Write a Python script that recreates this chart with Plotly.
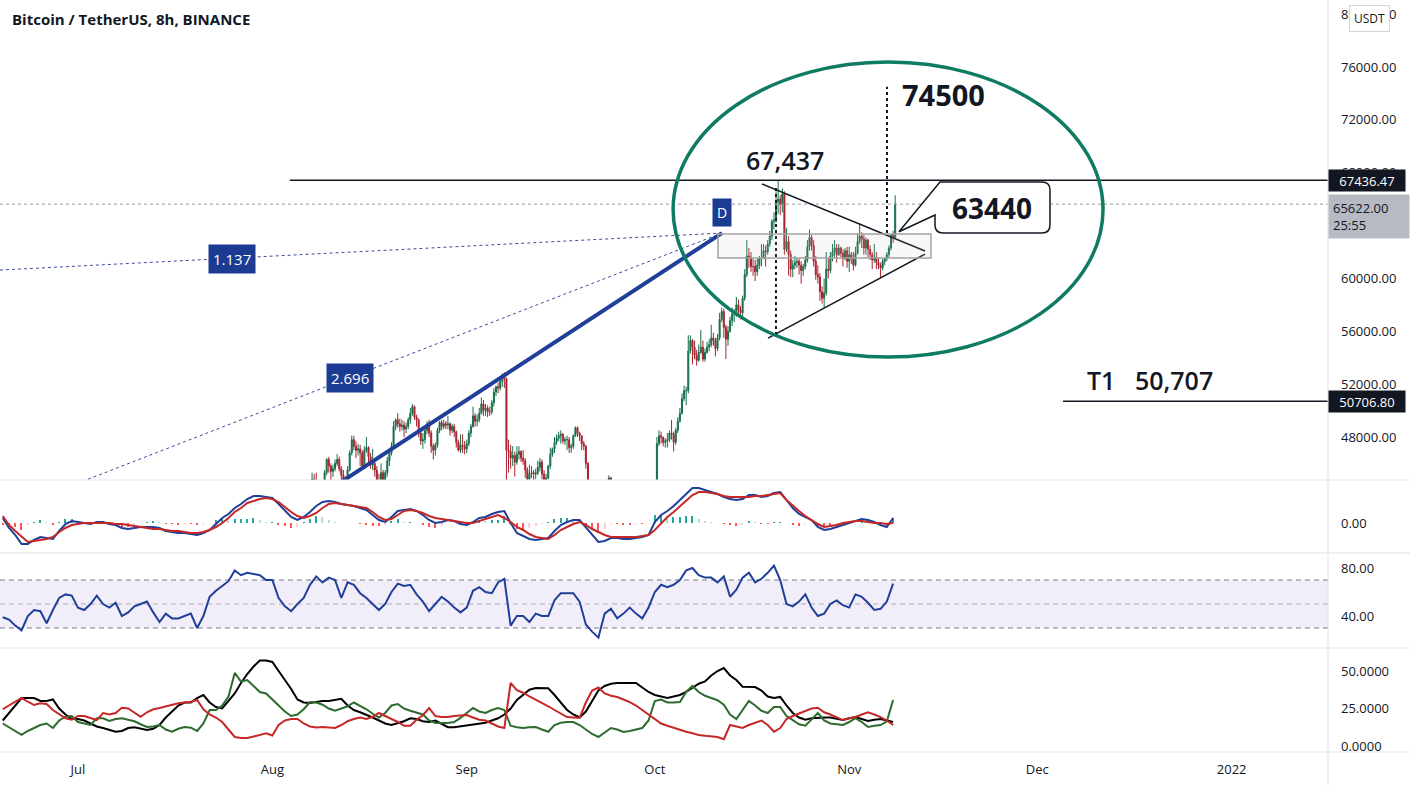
import pandas as pd
import plotly.graph_objects as go
from plotly.subplots import make_subplots

# ------------------------------------------------------------------ data
chart_title = "Bitcoin / TetherUS, 8h, BINANCE"

# 8h candles, first candle opens 2021-08-05 00:00
candle_start = "2021-08-05 00:00"
candle_first_open = 39500
candle_close = [
    39800, 40500, 40900,  41200, 42400, 42800,  43900, 44800, 44600,  44300, 43900, 43800,   # Aug 5-8
    43200, 45300, 46300,  45800, 45400, 45600,  46000, 46300, 45600,  45100, 44600, 44400,   # Aug 9-12
    45500, 46800, 47800,  47300, 47000, 47100,  46800, 45800, 47000,  47200, 46500, 45900,   # Aug 13-16
    46000, 45500, 44700,  44700, 45300, 44700,  45300, 46200, 46800,  47300, 48800, 49300,   # Aug 17-20
    49000, 48800, 48900,  48600, 48800, 49300,  49800, 50300, 49500,  49300, 48300, 47700,   # Aug 21-24
    47800, 48500, 48900,  48300, 47300, 47000,  47400, 48500, 49100,  48800, 49000, 48900,   # Aug 25-28
    49000, 48500, 48800,  48400, 47600, 47000,  47400, 47300, 47100,                         # Aug 29-31
    47500, 48300, 48800,  49600, 49200, 49300,  49800, 50500, 50000,  50200, 49900, 49900,   # Sep 1-4
    50600, 51400, 51800,  51700, 52200, 52700,  52400, 47000, 46900,  46400, 46600, 46100,   # Sep 5-8
    46700, 46900, 46400,  46200, 45500, 44800,  45200, 45300, 45200,  45300, 45700, 46100,   # Sep 9-12
    45200, 44600, 44900,  45800, 46700, 47100,  47600, 47900, 48100,  48200, 47700, 47800,   # Sep 13-16
    47800, 47200, 47300,  48100, 48700, 48300,  48100, 47500, 47300,  46000, 44200, 43000,   # Sep 17-20
    42700, 41700, 40700,  41700, 42800, 43600,  43900, 44300, 44900,  44500, 41800, 42800,   # Sep 21-24
    42500, 42900, 42700,  42300, 42900, 43200,  43900, 43400, 42200,  41900, 41300, 41000,   # Sep 25-28
    41300, 41900, 41500,  42800, 43400, 43800,                                               # Sep 29-30
    44200, 47500, 48100,  48000, 47600, 47700,  47800, 48300, 48200,  47600, 48500, 49200,   # Oct 1-4
    49800, 50900, 51500,  51500, 54500, 55300,  54800, 54200, 53800,  54400, 54800, 53900,   # Oct 5-8
    54400, 54800, 55000,  55500, 55300, 54700,  55500, 56900, 57500,  56300, 55400, 56000,   # Oct 9-12
    56800, 57300, 57400,  58000, 57600, 57400,  58500, 60300, 61700,  61600, 60900, 60900,   # Oct 13-16
    60500, 61000, 61500,  61500, 62100, 62000,  62600, 63200, 64300,  64400, 65800, 66000,   # Oct 17-20
    65600, 66400, 62200,  62800, 61800, 60700,  61000, 61200, 61300,  61000, 60600, 60900,   # Oct 21-24
    61400, 62400, 63100,  62500, 61300, 60300,  60100, 59000, 58500,  58900, 60700, 60600,   # Oct 25-28
    61700, 62000, 62300,  61800, 62300, 61900,  61500, 62100, 61300,                         # Oct 29-31
    61800, 61600, 61000,  61900, 62800, 63200,  63000, 62300, 62900,  62200, 61800, 61400,   # Nov 1-4
    61600, 61200, 61000,  60800, 61300, 61500,  61800, 62300, 63300,  63100, 65622,          # Nov 5-8
]
candle_high = [
    40300, 41200, 41400,  41500, 42700, 43300,  44100, 45300, 45200,  45300, 44600, 44200,
    44100, 45500, 46400,  46500, 46000, 45900,  46300, 46700, 46500,  45800, 45500, 45000,
    45800, 47000, 48100,  48100, 47700, 47500,  47400, 47000, 47300,  48000, 47300, 46800,
    47100, 46200, 45800,  45200, 46000, 45500,  45500, 46500, 47000,  47600, 49200, 49400,
    49800, 49400, 49300,  49200, 49100, 49500,  50200, 50500, 50400,  49700, 49400, 48600,
    48300, 48800, 49200,  49300, 48500, 47500,  47600, 48700, 49200,  49300, 49300, 49200,
    49600, 49100, 49000,  49000, 48500, 47800,  48200, 48200, 47700,
    47800, 48500, 49000,  50300, 49800, 49700,  50200, 51000, 50800,  50500, 50400, 50300,
    50800, 51700, 51900,  52100, 52600, 52800,  52900, 52500, 47800,  47400, 47300, 46900,
    47300, 47300, 47000,  47000, 46400, 45700,  45900, 45800, 45500,  45600, 46200, 46400,
    46300, 45500, 45200,  45900, 47200, 47200,  48000, 48200, 48400,  48500, 48300, 48000,
    48100, 48000, 47500,  48200, 48800, 48800,  48400, 48100, 47700,  47400, 46100, 44400,
    43600, 42800, 42300,  42100, 43200, 44000,  44100, 44500, 45100,  45000, 44700, 43100,
    43000, 43000, 43100,  42800, 43500, 43900,  44400, 44300, 43600,  42800, 42300, 41600,
    41900, 42600, 42100,  43100, 43800, 44100,
    44500, 48000, 48500,  48400, 48000, 47900,  48300, 48500, 49300,  48400, 48700, 49500,
    50200, 51300, 51900,  51800, 55700, 55700,  55400, 55300, 54600,  55000, 56100, 55300,
    54700, 55200, 55400,  56500, 55900, 55500,  55800, 57400, 57800,  57700, 56500, 56400,
    57100, 57800, 57700,  58600, 58400, 57900,  58700, 60700, 62900,  62300, 62000, 61500,
    61400, 61500, 61700,  62600, 62600, 62500,  62900, 63600, 64500,  65000, 66600, 67436,
    66300, 66800, 66600,  63800, 63200, 62100,  61400, 61700, 61600,  61500, 61300, 61100,
    61700, 62900, 63700,  63300, 62900, 61700,  61000, 60400, 59400,  60000, 62000, 61500,
    62000, 62600, 62900,  62600, 62600, 62400,  62200, 62300, 62400,
    62400, 62000, 62000,  62400, 63400, 64200,  63500, 63300, 63100,  63000, 62500, 62000,
    62600, 62000, 61600,  61200, 61500, 61600,  62000, 62500, 63300,  63600, 66300,
]
candle_low = [
    37500, 39600, 40200,  40500, 41000, 42200,  42700, 43800, 44100,  43800, 43300, 43300,
    42800, 43100, 45100,  45300, 44700, 45000,  45400, 45800, 45400,  44500, 43800, 43800,
    44200, 45400, 46600,  47000, 46400, 46600,  45800, 45500, 45600,  46800, 45900, 45600,
    45500, 45000, 44400,  44200, 44400, 44200,  43900, 45000, 45800,  46600, 47100, 48500,
    48700, 48400, 48500,  48000, 48300, 48600,  49000, 49600, 49300,  48800, 48000, 47400,
    47100, 47500, 48200,  48000, 46800, 46300,  46600, 47200, 48300,  48500, 48600, 48600,
    48600, 48100, 48300,  48000, 47200, 46900,  46800, 46800, 46700,
    46800, 47300, 48000,  48700, 48800, 48800,  49100, 49700, 49600,  49600, 49500, 49600,
    49700, 50300, 51100,  51300, 51500, 51800,  51700, 42800, 45300,  45600, 45800, 45000,
    45900, 46300, 46100,  45900, 44900, 44100,  44700, 44900, 44700,  44800, 45100, 45400,
    44800, 43400, 44300,  44800, 45600, 46500,  46800, 47400, 47700,  47500, 47500, 47400,
    47000, 46800, 46800,  47100, 48000, 48000,  47700, 47000, 47000,  45600, 43700, 42500,
    42300, 40900, 39600,  40600, 41400, 42500,  43100, 43600, 44000,  44100, 40700, 41400,
    41700, 42200, 42300,  40800, 42000, 42700,  43200, 43000, 42000,  41400, 40900, 40800,
    40800, 41200, 41100,  41400, 42600, 43100,
    43300, 44000, 47300,  47500, 47300, 47200,  47200, 47600, 47800,  46900, 47400, 48300,
    49100, 49700, 50700,  50400, 51300, 54300,  53500, 53900, 53400,  53700, 54300, 53700,
    53700, 54300, 54500,  54800, 54900, 54100,  54500, 55300, 56700,  55500, 53900, 54900,
    55900, 56400, 56700,  57100, 57200, 56900,  57000, 58300, 60100,  60800, 60500, 60200,
    59800, 60200, 60700,  60900, 61500, 60900,  61800, 62400, 62900,  63700, 64200, 64900,
    64800, 65000, 61800,  62000, 60200, 60100,  60100, 60700, 60800,  60300, 59600, 60200,
    60700, 61200, 62100,  62100, 60900, 59900,  59600, 58300, 58100,  57800, 58700, 60000,
    60400, 61300, 61600,  61200, 61700, 61600,  60900, 61400, 60800,
    60500, 61100, 60600,  60900, 61800, 62600,  62300, 61800, 61800,  61600, 61400, 60700,
    61200, 60700, 60700,  60000, 60600, 61000,  61300, 61600, 62100,  62700, 63000,
]

# daily indicator readings, first value 2021-06-19
indicator_start = "2021-06-19"
macd_line = [
    250, -250, -600, -1050, -1050, -850, -700, -750, -800, -400,
    -50, 100, 50, 0, -50, 50, 50, -50, -100, -250,
    -300, -250, -200, -200, -200, -250, -400, -450, -500, -500,
    -550, -600, -500, -350, -50, 250, 450, 750, 950, 1200,
    1350, 1350, 1300, 1250, 950, 650, 300, 150, 300, 550,
    850, 1050, 1100, 1050, 950, 900, 850, 750, 650, 400,
    150, 50, 300, 600, 650, 700, 600, 400, 150, 0,
    50, 150, 100, -50, -100, 50, 250, 300, 450, 550,
    600, 0, -500, -650, -800, -850, -800, -750, -400, -100,
    50, 150, 150, -200, -600, -950, -900, -750, -750, -800,
    -800, -750, -700, -600, 50, 400, 600, 850, 1150, 1500,
    1750, 1750, 1650, 1550, 1450, 1300, 1200, 1150, 1200, 1400,
    1400, 1300, 1350, 1500, 1550, 1150, 750, 450, 300, 150,
    -200, -350, -300, -200, -100, 0, 100, 200, 150, 50,
    -100, -200, 250,
]
macd_signal = [
    350, -100, -400, -700, -950, -900, -850, -800, -700, -450,
    -250, -100, -50, 0, 0, 0, 0, 0, -50, -50,
    -100, -150, -200, -250, -300, -300, -350, -400, -400, -450,
    -500, -500, -450, -350, -200, 0, 250, 550, 750, 1000,
    1100, 1200, 1250, 1200, 1050, 800, 550, 350, 250, 350,
    500, 750, 950, 1000, 950, 900, 850, 800, 750, 550,
    300, 150, 200, 400, 600, 650, 600, 500, 350, 250,
    200, 150, 100, 50, 0, 0, 100, 200, 300, 400,
    250, 50, -200, -350, -550, -700, -750, -800, -600, -350,
    -200, -50, 50, -100, -300, -450, -600, -700, -700, -700,
    -700, -700, -650, -600, -350, 0, 300, 550, 850, 1150,
    1400, 1550, 1550, 1500, 1450, 1350, 1300, 1300, 1300, 1300,
    1350, 1350, 1400, 1450, 1500, 1150, 850, 600, 350, 150,
    -50, -200, -150, -100, 0, 50, 100, 100, 50, 0,
    0, -50, 0,
]
rsi_values = [
    39, 37, 32, 28, 40, 45, 44, 34, 45, 55,
    58, 57, 47, 45, 50, 57, 50, 47, 51, 40,
    43, 48, 50, 52, 43, 35, 42, 38, 38, 40,
    42, 30, 40, 56, 61, 65, 69, 78, 74, 76,
    75, 74, 70, 70, 55, 48, 44, 50, 55, 66,
    73, 68, 72, 70, 55, 68, 66, 59, 55, 50,
    45, 50, 60, 67, 65, 66, 58, 52, 44, 50,
    56, 52, 47, 43, 47, 61, 64, 60, 59, 68,
    71, 32, 40, 40, 35, 42, 40, 40, 53, 59,
    59, 59, 52, 33, 27, 22, 42, 46, 38, 42,
    47, 42, 38, 47, 60, 66, 64, 66, 70, 78,
    80, 74, 72, 72, 68, 73, 56, 62, 72, 76,
    68, 71, 76, 82, 70, 50, 48, 52, 58, 47,
    40, 42, 50, 53, 49, 47, 58, 56, 51, 45,
    46, 52, 67,
]
adx_values = [
    17, 22, 27, 32, 32, 32, 30, 30, 31, 25,
    21, 18, 18, 17, 15, 13, 12, 10.5, 9.5, 10,
    12, 12.5, 11.5, 10.7, 11.5, 14, 19, 23, 27, 29,
    29, 32, 34, 29, 26, 25, 30, 35, 42, 48,
    53, 57, 57, 56, 50, 44, 38, 31, 29, 28.7,
    29.5, 30, 30, 30.5, 31.5, 27, 24, 22.5, 21, 19,
    17, 15, 14, 15, 16.5, 18.5, 18, 16.5, 16, 17,
    14.5, 12.5, 12.5, 13, 14, 14.5, 15, 15.5, 17, 18.5,
    21, 25, 30.7, 34, 37.5, 38.7, 38.7, 38.5, 34, 29,
    24, 21, 19, 23, 30, 37, 40, 41.5, 42, 42,
    42, 42, 39, 36, 34, 33, 32, 33, 34, 36,
    39, 41.5, 43, 47, 50, 52, 47, 44, 39.5, 39.3,
    39.3, 37, 33, 32, 32.7, 27, 22, 19, 17.5, 18.5,
    19, 19, 19, 18, 17.3, 18.5, 19.3, 18, 16.7, 17.5,
    18, 17, 16,
]
plus_di = [
    15, 12.5, 10, 7.5, 10, 12, 14, 15, 12, 17,
    19.5, 20, 16, 15, 14, 18.5, 18.5, 16.7, 18, 18.5,
    17.5, 16.5, 14.5, 12.7, 13, 14, 11, 9.5, 11.5, 12.7,
    12.2, 10, 15, 24, 24, 27, 33, 48.7, 43, 44,
    40, 36, 35, 30.7, 27, 23, 20, 21, 24.5, 29.3,
    29, 27.5, 25, 23.5, 25, 26.5, 29, 27, 24.5, 21.5,
    19, 22, 27, 28, 25, 23.5, 22.5, 21, 17, 15.3,
    15.3, 15.3, 16, 18.7, 22, 25.3, 23, 22, 24, 25.3,
    24, 13.5, 12.5, 12, 12.5, 12.7, 11, 9.5, 14, 15.5,
    16, 16, 14, 11, 8, 6, 9, 12, 11, 9.3,
    10, 11, 12, 17, 30, 31, 29, 29, 29.3, 36,
    40, 36, 33.5, 32, 30.5, 27.5, 21, 18, 24, 30,
    27, 23.5, 22, 26, 26, 20, 17.3, 14.5, 13.5, 18,
    22, 17, 15, 14.5, 14, 16, 18.5, 16, 12.7, 13.5,
    14, 16.5, 30.7,
]
minus_di = [
    24.5, 27, 30, 32, 29.5, 27.3, 28.5, 28, 24, 21,
    18.5, 17.5, 20, 20, 18.5, 17.3, 22, 21, 22, 25.5,
    25, 22, 19.5, 22.5, 24.5, 25.3, 26.5, 27.5, 28.5, 29,
    29.5, 30.7, 24.5, 21, 19, 16, 11, 6, 5.3, 5.3,
    6.3, 7.5, 8.5, 7, 14, 17, 18, 18, 15, 13,
    12.3, 12.7, 12.3, 12, 14, 16.5, 18, 19, 18, 19.5,
    22, 20, 18.5, 16, 13.5, 13.5, 17.5, 20.5, 25.3, 20,
    19.3, 19.3, 20, 20.5, 20.7, 19, 17.5, 17, 15, 13,
    12, 42, 37.3, 35.5, 33, 31, 28.5, 26.5, 24, 21.5,
    19.3, 19, 18.7, 29, 37, 39, 35, 33.5, 32.7, 31,
    29.3, 27, 24, 21, 18, 15, 13.5, 12, 11, 9.5,
    8.5, 7.3, 6.8, 6.3, 6, 4.5, 14, 13, 12, 14,
    15.5, 17, 14, 9.5, 12, 18, 20, 21.5, 23, 25,
    25.5, 22.5, 21, 19, 17.3, 18.5, 19.3, 21, 22.5, 21,
    19.3, 17, 14,
]

month_ticks = ["2021-07-01", "2021-08-01", "2021-09-01", "2021-10-01",
               "2021-11-01", "2021-12-01", "2022-01-01"]
month_labels = ["Jul", "Aug", "Sep", "Oct", "Nov", "Dec", "2022"]
# 64000 sits entirely under the last-price label in the reference, so it is not drawn
price_ticks = [48000, 52000, 56000, 60000, 68000, 72000, 76000, 80000]

resistance_level = 67436.47
last_price = 65622.00
countdown = "25:55"
target1_level = 50706.80
target1_text = "T1   50,707"
peak_text = "67,437"
target_text = "74500"
target_price = 74500
callout_text = "63440"
fib_labels = ["1.137", "2.696"]

# ------------------------------------------------------------------ styles
GREEN = "#15704a"
RED = "#a8222e"
BLUE = "#1f3f99"
LINE_RED = "#c62828"
DK = "#131722"
FONT = "Open Sans, sans-serif"

x_start = "2021-06-18 13:30"
x_end = "2022-01-16 08:40"

times = pd.date_range(candle_start, periods=len(candle_close), freq="8h")
opens = [candle_first_open] + candle_close[:-1]
days = pd.date_range(indicator_start, periods=len(macd_line), freq="D")

hist = [m - s for m, s in zip(macd_line, macd_signal)]
hist_colors = []
for i, h in enumerate(hist):
    prev = hist[i - 1] if i > 0 else 0
    if h >= 0:
        hist_colors.append("#26a69a" if h >= prev else "#b2dfdb")
    else:
        hist_colors.append("#ff5252" if h <= prev else "#ffcdd2")

fig = make_subplots(rows=4, cols=1, shared_xaxes=True, vertical_spacing=0,
                    row_heights=[480, 73, 95, 104])

fig.add_trace(go.Candlestick(
    x=times, open=opens, high=candle_high, low=candle_low, close=candle_close,
    increasing=dict(line=dict(color=GREEN, width=1), fillcolor=GREEN),
    decreasing=dict(line=dict(color=RED, width=1), fillcolor=RED),
    whiskerwidth=0, hoverinfo="skip", showlegend=False), row=1, col=1)

fig.add_trace(go.Bar(x=days, y=hist, marker=dict(color=hist_colors, line=dict(width=0)),
                     width=5 * 3600 * 1000, hoverinfo="skip"), row=2, col=1)
fig.add_trace(go.Scatter(x=days, y=macd_line, mode="lines",
                         line=dict(color=BLUE, width=2)), row=2, col=1)
fig.add_trace(go.Scatter(x=days, y=macd_signal, mode="lines",
                         line=dict(color=LINE_RED, width=2)), row=2, col=1)

fig.add_trace(go.Scatter(x=days, y=rsi_values, mode="lines",
                         line=dict(color=BLUE, width=2)), row=3, col=1)
fig.add_hrect(y0=30, y1=70, row=3, col=1, fillcolor="rgba(126,87,194,0.10)",
              line_width=0, layer="below", exclude_empty_subplots=False)
for lvl, col in [(70, "#787b86"), (50, "rgba(120,123,134,0.55)"), (30, "#787b86")]:
    fig.add_hline(y=lvl, row=3, col=1, line=dict(color=col, width=1, dash="5px,4px"),
                  layer="below", exclude_empty_subplots=False)

fig.add_trace(go.Scatter(x=days, y=adx_values, mode="lines",
                         line=dict(color="#000000", width=2)), row=4, col=1)
fig.add_trace(go.Scatter(x=days, y=plus_di, mode="lines",
                         line=dict(color="#2e6b2e", width=2)), row=4, col=1)
fig.add_trace(go.Scatter(x=days, y=minus_di, mode="lines",
                         line=dict(color=LINE_RED, width=2)), row=4, col=1)

# ------------------------------------------------------------------ drawings (data coords)
leg_start = ("2021-08-11 19:00", 44540)
leg_end = ("2021-10-11 17:00", 63434)
fib_a_start = ("2021-06-18 13:30", 60633)
fib_b_start = ("2021-06-28 03:00", 43979)

shapes = []
def seg(p0, p1, **line):
    shapes.append(dict(type="line", xref="x", yref="y", x0=p0[0], y0=p0[1],
                       x1=p1[0], y1=p1[1], line=line))

seg(fib_a_start, leg_end, color="#3d4a9c", width=1, dash="dot")
seg(fib_b_start, leg_end, color="#3d4a9c", width=1, dash="dot")
seg(leg_start, leg_end, color=BLUE, width=4)
seg((x_start, last_price), ("2022-01-20", last_price), color="#9598a1", width=1, dash="dot")
seg(("2021-08-03 19:00", resistance_level), ("2022-01-20", resistance_level), color=DK, width=1.5)
seg(("2021-12-05 02:30", target1_level), ("2022-01-20", target1_level), color=DK, width=1.5)
seg(("2021-10-18 02:10", 67143), ("2021-11-13 02:10", 62071), color=DK, width=1.5)
seg(("2021-10-19 01:10", 55485), ("2021-11-13 02:10", 61844), color=DK, width=1.5)
seg(("2021-10-20 07:40", 55713), ("2021-10-20 07:40", 67067), color=DK, width=2, dash="dot")
seg(("2021-11-07 00:40", 63434), ("2021-11-07 00:40", target_price), color=DK, width=2, dash="dot")

shapes.append(dict(type="rect", xref="x", yref="y", x0="2021-10-11 01:40", x1="2021-11-14 01:00",
                   y0=61541, y1=63358, line=dict(color="#a3a3a3", width=1.5),
                   fillcolor="rgba(200,200,200,0.12)"))
shapes.append(dict(type="circle", xref="x", yref="y", x0="2021-10-03 22:00", x1="2021-12-11 11:30",
                   y0=54047, y1=76379, line=dict(color="#0f7b63", width=3.5)))

# callout box with a wedge pointing at the last candle
cb_l = pd.Timestamp("2021-11-14 16:20")
cb_r = pd.Timestamp("2021-12-03 00:30")
cb_t, cb_b = 67295, 63434
rx, ry = pd.Timedelta(hours=31), 600
tip = (pd.Timestamp("2021-11-08 22:30"), 63530)
wedge_low = 64796
def P(t, p):
    return f"{t.strftime('%Y-%m-%d_%H:%M:%S')},{p}"
path = ("M " + P(cb_l + rx, cb_t) + " L " + P(cb_r - rx, cb_t) +
        " Q " + P(cb_r, cb_t) + " " + P(cb_r, cb_t - ry) +
        " L " + P(cb_r, cb_b + ry) + " Q " + P(cb_r, cb_b) + " " + P(cb_r - rx, cb_b) +
        " L " + P(cb_l + rx, cb_b) + " Q " + P(cb_l, cb_b) + " " + P(cb_l, cb_b + ry) +
        " L " + P(cb_l, wedge_low) + " L " + P(tip[0], tip[1]) +
        " L " + P(cb_l + pd.Timedelta(hours=19), cb_t) + " Z")
shapes.append(dict(type="path", xref="x", yref="y", path=path, fillcolor="white",
                   line=dict(color=DK, width=1.5)))

# separators (paper coords)
sep_y = [1 - 480 / 752, 1 - 553 / 752, 1 - 648 / 752, 0]
for yy in sep_y:
    shapes.append(dict(type="line", xref="paper", yref="paper", x0=0, x1=1410 / 1328,
                       y0=yy, y1=yy, line=dict(color="#e0e3eb", width=1)))
shapes.append(dict(type="line", xref="paper", yref="paper", x0=1, x1=1, y0=-34 / 752, y1=1,
                   line=dict(color="#e0e3eb", width=1)))

for s in shapes:
    fig.add_shape(**s)

ann = []
def label_box(x, y, text, size=15):
    ann.append(dict(xref="x", yref="y", x=x, y=y, text=text, showarrow=False,
                    xanchor="center", yanchor="middle",
                    bgcolor="#1c3c94", font=dict(color="white", size=size, family=FONT),
                    borderpad=4))

label_box("2021-07-25 13:30", 61466, fib_labels[0])
label_box("2021-08-13 09:00", 52457, fib_labels[1])
label_box(leg_end[0], 65024, "D", size=14)

def big_text(x, y, text, size, weight, xanchor="center"):
    ann.append(dict(xref="x", yref="y", x=x, y=y, text=text, showarrow=False,
                    xanchor=xanchor, yanchor="middle",
                    font=dict(color=DK, size=size, family=FONT, weight=weight)))

big_text("2021-10-21 18:00", 68960, peak_text, 25, 600)
big_text("2021-11-09 02:30", 73956, target_text, 29, "bold", xanchor="left")
big_text("2021-12-08 14:00", 52306, target1_text, 25, 600, xanchor="left")
big_text("2021-11-23 17:45", 65326, callout_text, 28, "bold")

# price-axis labels
ann.append(dict(xref="paper", x=1, xanchor="left", yref="y", y=resistance_level, yanchor="middle",
                text="67436.47", showarrow=False, bgcolor=DK, width=70, height=15,
                font=dict(color="white", size=13, family=FONT), borderpad=3))
ann.append(dict(xref="paper", x=1, xanchor="left", yref="y", y=target1_level, yanchor="middle",
                text="50706.80", showarrow=False, bgcolor=DK, width=70, height=15,
                font=dict(color="white", size=13, family=FONT), borderpad=3))
ann.append(dict(xref="paper", x=1, xanchor="left", yref="y", y=last_price, yanchor="top",
                yshift=10, text=f"{last_price:.2f}<br>{countdown}", showarrow=False,
                bgcolor="#b7bac3", width=72, align="left",
                font=dict(color=DK, size=13, family=FONT), borderpad=4))
ann.append(dict(xref="paper", yref="paper", x=1369 / 1328, y=1 - 19 / 752,
                xanchor="center", yanchor="middle", text="USDT",
                showarrow=False, bgcolor="white", bordercolor="#d1d4dc", borderwidth=1,
                borderpad=4, font=dict(color=DK, size=12, family=FONT)))
ann.append(dict(xref="paper", yref="paper", x=10 / 1328, y=1 - 19 / 752,
                xanchor="left", yanchor="middle",
                text=chart_title, showarrow=False,
                font=dict(color=DK, size=15, family=FONT, weight="bold")))

fig.update_layout(annotations=ann)

fig.update_layout(width=1410, height=786, margin=dict(l=0, r=82, t=0, b=34),
                  paper_bgcolor="white", plot_bgcolor="white", showlegend=False,
                  hovermode=False, bargap=0,
                  font=dict(family=FONT, size=13, color=DK))
fig.update_xaxes(range=[x_start, x_end], showgrid=False, zeroline=False, showline=False,
                 showticklabels=False, ticks="", rangeslider_visible=False)
fig.update_xaxes(row=4, col=1, showticklabels=True, tickvals=month_ticks, ticktext=month_labels,
                 tickfont=dict(size=13, color=DK), ticklabelstandoff=8)
fig.update_yaxes(side="right", showgrid=False, zeroline=False, showline=False, ticks="",
                 ticklabelstandoff=12, tickfont=dict(size=13, color=DK))
fig.update_yaxes(row=1, col=1, range=[44746, 81070], tickvals=price_ticks, tickformat=".2f")
fig.update_yaxes(row=2, col=1, range=[-1500, 2150], tickvals=[0], ticktext=["0.00"])
fig.update_yaxes(row=3, col=1, range=[13.33, 92.5], tickvals=[40, 80], ticktext=["40.00", "80.00"])
fig.update_yaxes(row=4, col=1, range=[-4, 65.33], tickvals=[0, 25, 50],
                 ticktext=["0.0000", "25.0000", "50.0000"])

fig.write_html("out.html")
